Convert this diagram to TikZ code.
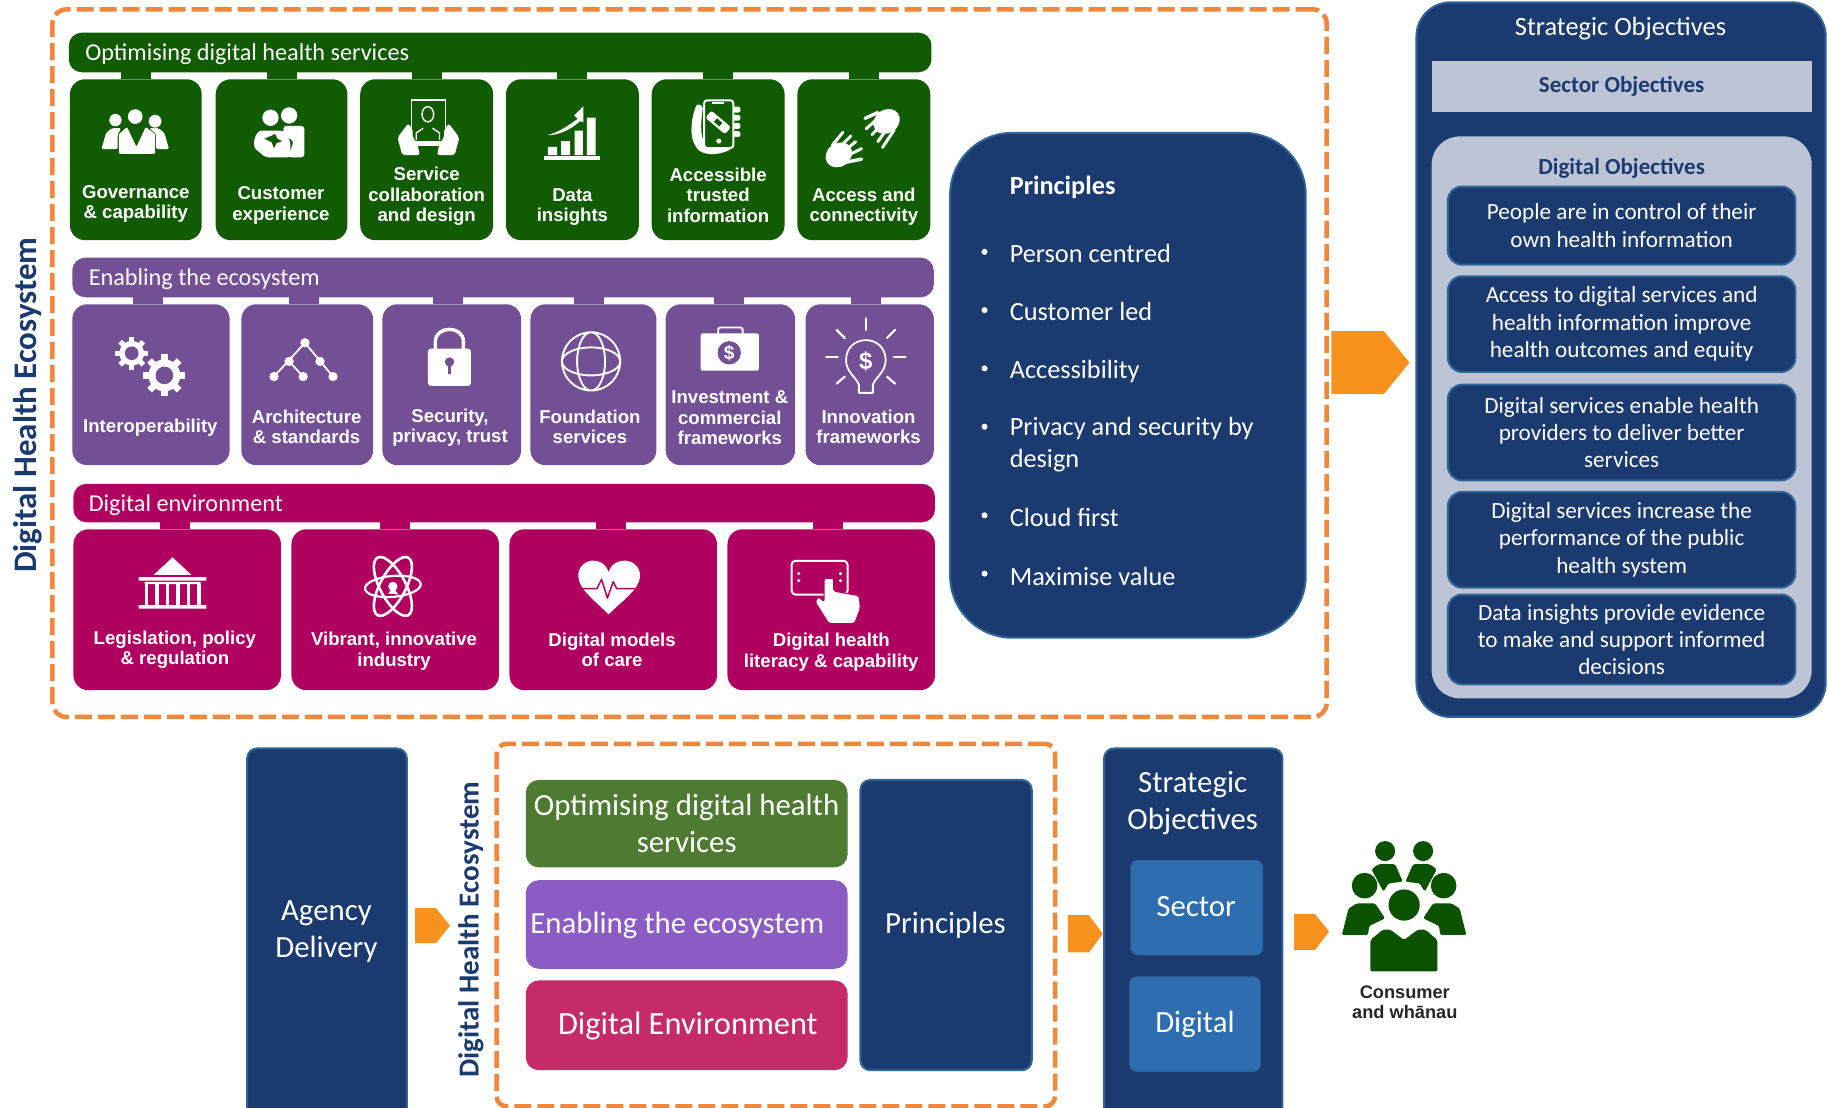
\documentclass[tikz,border=0pt]{standalone}
\usepackage{fontspec}
\setmainfont{Carlito}
\newfontfamily\arialf{Liberation Sans}
\definecolor{dgreen}{HTML}{115C02}
\definecolor{dpurple}{HTML}{734F96}
\definecolor{dmag}{HTML}{B00060}
\definecolor{navy}{HTML}{1B3A70}
\definecolor{navyb}{HTML}{2F6496}
\definecolor{dorange}{HTML}{F0873A}
\definecolor{aorange}{HTML}{F7921E}
\definecolor{lgray}{HTML}{BCC4D6}
\definecolor{bgreen}{HTML}{4E7A32}
\definecolor{bpurple}{HTML}{8B5CC4}
\definecolor{bcrim}{HTML}{C42B68}
\definecolor{mblue}{HTML}{2E6DB0}
\definecolor{cgreen}{HTML}{0B5200}
\def\uu{1.1658}
\tikzset{
 boxb/.style={rectangle,outer sep=0pt,inner sep=0pt,text=white,align=center},
 tile/.style={boxb,rounded corners=15pt},
 bar/.style={boxb,rounded corners=13pt},
 tlabel/.style={text=white,align=center,inner sep=0pt,font=\arialf\bfseries\fontsize{18.6}{20.5}\selectfont},
 blabel/.style={text=white,anchor=base west,inner sep=0pt,font=\fontsize{24.2}{28}\selectfont},
 rtext/.style={text=white,align=center,font=\fontsize{23.2}{27.3}\selectfont},
 plist/.style={text=white,anchor=base west,align=left,inner sep=0pt,font=\fontsize{26.3}{31.5}\selectfont},
 bigt/.style={text=white,align=center,inner sep=0pt,font=\fontsize{30.8}{37}\selectfont},
 vlabel/.style={text=navy,rotate=90,inner sep=0pt,font=\bfseries\fontsize{32.9}{34}\selectfont},
 dashbox/.style={boxb,draw=dorange,line width=4.5pt,dash pattern=on 17pt off 6pt},
 objbox/.style={boxb,fill=navy,draw=navyb,line width=2pt,rounded corners=14pt},
 panel/.style={boxb,fill=navy,draw=navyb,line width=2pt},
 stub/.style={line width=30pt},
}
\newcommand{\bx}[7]{\node[#6,minimum width={(#4-(#2))*\uu*1pt},minimum height={(#5-(#3))*\uu*1pt}] (#1) at ({(#2+#4)/2},{(#3+#5)/2}) {#7};}
\newcommand{\stubline}[4]{\draw[stub,#1] ([xshift=#4*\uu*1pt]#2.north) -- ([xshift=#4*\uu*1pt]#2.north |- #3.south);}
\newcommand{\gearicon}[4]{%
 \foreach \a in {0,45,...,315}{\draw[white,line width=#3*0.36pt] ($(#1,#2)+(\a:#3*0.55)$) -- ($(#1,#2)+(\a:#3)$);}
 \fill[white] (#1,#2) circle (#3*0.76);
 \fill[#4] (#1,#2) circle (#3*0.42);}
\usetikzlibrary{calc}
\begin{document}
\begin{tikzpicture}[x=1.1658pt,y=-1.1658pt]
\useasboundingbox (0,0) rectangle (1568,950.4);
\fill[white] (0,0) rectangle (1568,950.4);

% outer dashed
\bx{outer}{45}{8}{1138}{615}{dashbox,rounded corners=14pt}{}
\node[vlabel] (vl) at (24,347.5) {Digital Health Ecosystem};

% green row
\bx{gbar}{59}{28}{799}{62}{bar,fill=dgreen}{}
\node[blabel] (gbart) at (73,51.5) {Optimising digital health services};
\bx{g1}{60}{68}{173}{206}{tile,fill=dgreen}{}
\bx{g2}{185}{68}{298}{206}{tile,fill=dgreen}{}
\bx{g3}{309}{68}{423}{206}{tile,fill=dgreen}{}
\bx{g4}{434}{68}{548}{206}{tile,fill=dgreen}{}
\bx{g5}{559}{68}{673}{206}{tile,fill=dgreen}{}
\bx{g6}{684}{68}{798}{206}{tile,fill=dgreen}{}
\foreach \n in {g1,g2,g3,g4,g5,g6}{\stubline{dgreen}{\n}{gbar}{0}}
\node[tlabel] (g1t) at (116.5,175) {Governance\\\& capability};
\node[tlabel] (g2t) at (241,176) {Customer\\experience};
\node[tlabel] (g3t) at (366,168.5) {Service\\collaboration\\and design};
\node[tlabel] (g4t) at (491,177.5) {Data\\insights};
\node[tlabel] (g5t) at (616,167.5) {Accessible\\trusted\\information};
\node[tlabel] (g6t) at (741,177.5) {Access and\\connectivity};

% icon governance
\begin{scope}[shift={(116,113)}]
 \fill[white] (-17,-10) circle (5.3) (0,-13) circle (6.3) (17,-9) circle (5.5);
 \fill[white,rounded corners=1.5pt] (-29,15)--(-25,1)--(-20,-3)--(-12,-3)--(-15,2)--(-15,15)--cycle;
 \fill[white,rounded corners=1.5pt] (29,15)--(25,1)--(20,-3)--(12,-3)--(18,2)--(18,15)--cycle;
 \fill[white,rounded corners=1pt] (-14,19)--(17,19)--(17,2)--(9,-4)--(1,13)--(-7,-4)--(-14,2)--cycle;
\end{scope}
% icon customer
\begin{scope}[shift={(240,113)}]
 \fill[white] (-8,-12) circle (7) (8,-14) circle (7);
 \fill[white,rounded corners=3pt] (3,-5)--(21,-5)--(21,22)--(7,22)--(12,8)--(3,3)--cycle;
 \fill[white,rounded corners=3pt] (-18,-1)--(3,-1)--(9,8)--(9,22)--(-12,22)--(-22,14)--(-22,6)--cycle;
 \fill[dgreen] (-13,6)--(-4,2)--(-2,6)--(2,8)--(-3,10)--(-5,14)--(-7,9)--cycle;
\end{scope}
% icon service
\begin{scope}[shift={(367,109)}]
 \draw[white,line width=1.6pt] (-14,-23) rectangle (15,13);
 \draw[white,line width=1.4pt] (0,-11) ellipse (5 and 6.5);
 \draw[white,line width=1.4pt] (-10,11)--(-10,5)--(-4,1) (10,11)--(10,5)--(4,1);
 \fill[white] (-9,12) rectangle (10,16);
 \fill[white,rounded corners=2pt] (-26,9)--(-17,-3)--(-13,2)--(-13,9)--(-9,14)--(-7,24)--(-22,24)--cycle;
 \fill[white,rounded corners=2pt] (27,9)--(18,-3)--(14,2)--(14,9)--(10,14)--(8,24)--(23,24)--cycle;
\end{scope}
% icon data
\begin{scope}[shift={(490.5,115)}]
 \fill[white] (-24,19) rectangle (24,22);
 \fill[white] (-20.6,11) rectangle (-12.6,18) (-9.1,6) rectangle (-1.4,18) (2.3,-3) rectangle (9.4,18) (12.9,-14) rectangle (20.3,18);
 \fill[white] (-21,1) .. controls (-10,-2) and (-2,-8) .. (5,-13) -- (2,-16) -- (10,-24) -- (10,-10) -- (7,-11) .. controls (-2,-3) and (-12,1) .. (-21,1) -- cycle;
\end{scope}
% icon accessible
\begin{scope}[shift={(615,108)}]
 \fill[white,rounded corners=2pt] (-17,-19) .. controls (-22,-8) and (-24,8) .. (-18,18) .. controls (-13,25) and (0,26) .. (12,20) -- (-8,17) .. controls (-16,10) and (-13,-8) .. (-12,-17) -- cycle;
 \draw[white,line width=2pt,rounded corners=3pt,fill=dgreen] (-11,-22) rectangle (14,19);
 \draw[white,line width=2pt] (-4,-19.5)--(6,-19.5);
 \fill[white] (1.5,13) circle (2.2);
 \begin{scope}[shift={(1,-3)},rotate=-40]
  \fill[white,rounded corners=2.5pt] (-11,-4) rectangle (11,4);
  \fill[dgreen] (-3,-2) rectangle (3,2);
 \end{scope}
 \foreach \yy in {-14,-7,0,7}{\fill[white,rounded corners=1.5pt] (14,\yy-2.5) rectangle (20,\yy+2.5);}
\end{scope}
% icon access
\begin{scope}[shift={(740,118.5)}]
 \fill[white,rotate=35] (-25,0) ellipse (12 and 10);
 \fill[white,rotate=35] (25,0) ellipse (12 and 10);
 \foreach \ax/\ay/\bx/\by in {-26/6/-17/-5,-21/9/-10/-2,-17/12/-6/3,-13/15/-1/9,15/-19/3/-8,19/-15/8/-3,23/-11/13/3,27/-7/17/8}{\draw[white,line width=3pt,line cap=round] (\ax,\ay)--(\bx,\by);}
 \draw[white,line width=3.4pt,line cap=round] (-16,21)--(-1,18) (2,-17)--(13,-22);
\end{scope}

% purple row
\bx{pbar}{62}{221}{801}{255}{bar,fill=dpurple}{}
\node[blabel] (pbart) at (76,244.5) {Enabling the ecosystem};
\bx{p1}{62}{261}{197}{399}{tile,fill=dpurple}{}
\bx{p2}{207}{261}{320}{399}{tile,fill=dpurple}{}
\bx{p3}{328}{261}{447}{399}{tile,fill=dpurple}{}
\bx{p4}{455}{261}{563}{399}{tile,fill=dpurple}{}
\bx{p5}{571}{261}{682}{399}{tile,fill=dpurple}{}
\bx{p6}{691}{261}{801}{399}{tile,fill=dpurple}{}
\stubline{dpurple}{p1}{pbar}{-2.5}
\stubline{dpurple}{p2}{pbar}{-2.5}
\stubline{dpurple}{p3}{pbar}{-3.5}
\stubline{dpurple}{p4}{pbar}{-4}
\stubline{dpurple}{p5}{pbar}{-1.5}
\stubline{dpurple}{p6}{pbar}{-3}
\node[tlabel] (p1t) at (129,367) {Interoperability};
\node[tlabel] (p2t) at (263,366) {Architecture\\\& standards};
\node[tlabel] (p3t) at (386,367) {Security,\\privacy, trust};
\node[tlabel] (p4t) at (506,366) {Foundation\\services};
\node[tlabel] (p5t) at (626,358.5) {Investment \&\\commercial\\frameworks};
\node[tlabel] (p6t) at (745,366) {Innovation\\frameworks};

% gears
\gearicon{113}{303}{14}{dpurple}
\gearicon{141}{322}{18}{dpurple}
% tree
\draw[white,line width=1.8pt] (235,323)--(261.6,294)--(285.6,323) (248,310)--(260,323);
\fill[white] (261.6,294) circle (4) (248,310) circle (4) (274.5,310) circle (4) (235,323) circle (4) (260,323) circle (4) (285.6,323) circle (4);
% lock
\draw[white,line width=3.4pt] (373.5,300)--(373.5,293) .. controls (373.5,279) and (397.5,279) .. (397.5,293) -- (397.5,300);
\fill[white,rounded corners=3pt] (367,299) rectangle (404,331);
\fill[dpurple] (385.6,310.5) circle (4);
\fill[dpurple] (384,311) rectangle (387.2,321);
% globe
\draw[white,line width=1.9pt] (507,310) circle (25) (507,310) ellipse (12 and 25) (507,310) ellipse (25 and 12);
% suitcase
\draw[white,line width=1.8pt,rounded corners=2pt] (616,288)--(616,281)--(637,281)--(637,288);
\fill[white,rounded corners=2pt] (601,286) rectangle (651,318);
\fill[dpurple] (625.5,302.6) circle (10);
\node[text=white,inner sep=0pt,font=\arialf\bfseries\fontsize{19}{19}\selectfont] (suitd) at (625.5,302.6) {\$};
% bulb
\begin{scope}[shift={(742.7,310)}]
 \draw[white,line width=1.8pt,line join=round] (-6,27) -- (-6,20) .. controls (-8,14) and (-17,9) .. (-17,-1) .. controls (-17,-24) and (17,-24) .. (17,-1) .. controls (17,9) and (8,14) .. (6,20) -- (6,27) -- cycle;
 \node[text=white,inner sep=0pt,font=\arialf\bfseries\fontsize{24}{24}\selectfont] (bulbd) at (0,0) {\$};
 \foreach \ax/\ay/\bx/\by in {0/-37/0/-27,-25/-27/-18/-20,25/-27/18/-20,-34/-4/-24/-4,24/-4/34/-4,-25/19/-18/13,18/13/25/19}{\draw[white,line width=2.2pt,line cap=round] (\ax,\ay)--(\bx,\by);}
\end{scope}

% magenta row
\bx{mbar}{63}{415}{802}{448}{bar,fill=dmag}{}
\node[blabel] (mbart) at (76,438.5) {Digital environment};
\bx{m1}{63}{454}{241}{592}{tile,fill=dmag}{}
\bx{m2}{250}{454}{428}{592}{tile,fill=dmag}{}
\bx{m3}{437}{454}{615}{592}{tile,fill=dmag}{}
\bx{m4}{624}{454}{802}{592}{tile,fill=dmag}{}
\stubline{dmag}{m1}{mbar}{-2}
\stubline{dmag}{m2}{mbar}{0}
\stubline{dmag}{m3}{mbar}{-2}
\stubline{dmag}{m4}{mbar}{-3}
\node[tlabel] (m1t) at (150,557.5) {Legislation, policy\\\& regulation};
\node[tlabel] (m2t) at (338,558.5) {Vibrant, innovative\\industry};
\node[tlabel] (m3t) at (525,557.5) {Digital models\\of care};
\node[tlabel] (m4t) at (713,559.5) {Digital health\\literacy \& capability};

% building
\fill[white] (148,478)--(164,493)--(132,493)--cycle;
\fill[white] (119,495) rectangle (177,498) (124,499) rectangle (172,501) (119,519) rectangle (177,522);
\foreach \cx in {124,133,142,151,160,169}{\fill[white] (\cx,501) rectangle (\cx+3,519);}
% atom
\begin{scope}[shift={(337,503)}]
 \draw[white,line width=2.6pt,rotate=62] (0,0) ellipse (28 and 11);
 \draw[white,line width=2.6pt,rotate=-62] (0,0) ellipse (28 and 11);
 \draw[white,line width=2.2pt,rotate=5] (0,0) ellipse (24 and 9);
 \fill[white] (0,0) circle (4);
 \fill[white] (-4,6) -- (0,1) -- (5,7) -- cycle;
\end{scope}
% heart
\fill[white] (522,527) .. controls (510,515) and (496,505) .. (496,494) .. controls (496,478) and (518,476) .. (522,491) .. controls (526,476) and (549,478) .. (549,494) .. controls (549,505) and (534,515) .. (522,527) -- cycle;
\draw[dmag,line width=1.5pt,line join=round] (498,505)--(512,505)--(516,497)--(521,513)--(526,499)--(529,505)--(547,505);
% tablet hand
\draw[white,line width=2pt,rounded corners=4pt] (679,481) rectangle (727,510);
\fill[white] (685,492) circle (1.5) (685,498) circle (1.5) (721,492) circle (1.5) (721,498) circle (1.5);
\filldraw[white,draw=dmag,line width=1pt,rounded corners=2pt] (707,496)--(707,516)--(702,512)--(699,516)--(711,535)--(733,535)--(738,522)--(737,511)--(715,507)--(715,496)--cycle;

% principles
\bx{prin}{815}{114}{1120}{547}{panel,rounded corners=62pt}{}
\node[plist,font=\bfseries\fontsize{26.3}{31.5}\selectfont] (pr0) at (866,167) {Principles};
\node[plist] (pr1) at (866,225) {Person centred};
\node[plist] (pr2) at (866,275) {Customer led};
\node[plist] (pr3) at (866,325) {Accessibility};
\node[plist,anchor=west] (pr4) at (866,381.5) {Privacy and security by\\design};
\node[plist] (pr5) at (866,452) {Cloud first};
\node[plist] (pr6) at (866,502) {Maximise value};
\foreach \yy in {216,266,316,366,442,492}{\fill[white] (844.5,\yy) circle (2.6);}

% arrow big
\fill[aorange] (1142,284)--(1187,284)--(1209,311)--(1187,338)--(1142,338)--cycle;

% strategic objectives
\bx{so}{1215}{2}{1566}{615}{panel,rounded corners=34pt}{}
\node[rtext,font=\fontsize{26.4}{30}\selectfont,inner sep=0pt] (sot) at (1390,24.5) {Strategic Objectives};
\bx{secobj}{1228}{52}{1554}{96}{boxb,fill=lgray,text=navy,font=\bfseries\fontsize{23}{27}\selectfont}{Sector Objectives}
\bx{digobj}{1228}{117}{1554}{599}{boxb,fill=lgray,rounded corners=28pt}{}
\node[text=navy,inner sep=0pt,font=\bfseries\fontsize{23}{27}\selectfont] (digt) at (1391,144) {Digital Objectives};
\bx{o1}{1242}{160}{1540}{227}{objbox,rtext}{People are in control of their\\own health information}
\bx{o2}{1242}{237}{1540}{319}{objbox,rtext}{Access to digital services and\\health information improve\\health outcomes and equity}
\bx{o3}{1242}{330}{1540}{412}{objbox,rtext}{Digital services enable health\\providers to deliver better\\services}
\bx{o4}{1242}{422}{1540}{504}{objbox,rtext}{Digital services increase the\\performance of the public\\health system}
\bx{o5}{1242}{510}{1540}{587}{objbox,rtext}{Data insights provide evidence\\to make and support informed\\decisions}

% lower strip
\bx{agency}{212}{642}{349}{960}{panel,rounded corners=10pt}{}
\node[bigt] (agt) at (280,799) {Agency\\Delivery};
\fill[aorange] (356,779)--(374,779)--(386,794)--(374,809)--(356,809)--cycle;
\node[vlabel,font=\bfseries\fontsize{29}{30}\selectfont] (vl2) at (404,797.5) {Digital Health Ecosystem};
\bx{outer2}{426}{638}{905}{949}{dashbox,rounded corners=10pt}{}
\bx{lg}{451}{669}{727}{744}{boxb,rounded corners=13pt,fill=bgreen}{}
\node[bigt] (lgt) at (589,706) {Optimising digital health\\services};
\bx{lp}{451}{755}{727}{831}{boxb,rounded corners=13pt,fill=bpurple}{}
\node[bigt] (lpt) at (581,794) {Enabling the ecosystem};
\bx{lc}{451}{841}{727}{918}{boxb,rounded corners=13pt,fill=bcrim}{}
\node[bigt,font=\fontsize{32.4}{37}\selectfont] (lct) at (590,880) {Digital Environment};
\bx{lpr}{738}{669}{885}{918}{panel,rounded corners=10pt}{}
\node[bigt] (lprt) at (811,794) {Principles};
\fill[aorange] (916,785)--(934,785)--(946,801)--(934,817)--(916,817)--cycle;
\bx{lso}{947}{642}{1100}{960}{panel,rounded corners=10pt}{}
\node[bigt] (lsot) at (1023,689) {Strategic\\Objectives};
\bx{lsec}{970}{738}{1083}{819}{boxb,rounded corners=7pt,fill=mblue,draw=navyb,line width=1pt}{}
\node[bigt] (lsect) at (1026,778) {Sector};
\bx{ldig}{969}{838}{1081}{919}{boxb,rounded corners=7pt,fill=mblue,draw=navyb,line width=1pt}{}
\node[bigt] (ldigt) at (1025,879) {Digital};
\fill[aorange] (1110,784)--(1128,784)--(1140,799)--(1128,815)--(1110,815)--cycle;

% consumer icon
\begin{scope}[shift={(1204.4,776.3)}]
 \fill[cgreen] (0,0) circle (13.4);
 \fill[cgreen,rounded corners=2pt] (-29,57)--(28.6,57)--(28.6,30)--(18,21)--(12,21)--(0,30)--(-12,21)--(-18,21)--(-29,30)--cycle;
 \foreach \s in {1,-1}{
  \begin{scope}[xscale=\s]
   \fill[cgreen] (-16.3,-46.3) circle (8.6);
   \fill[cgreen] (-33.9,-16.6) circle (11);
   \fill[cgreen,rounded corners=1.5pt] (-53.4,25.7)--(-47.7,3)--(-40.6,-1.4)--(-24.9,-1.4)--(-16.3,11.4)--(-30,18)--(-31,25.7)--cycle;
   \fill[cgreen,rounded corners=1.5pt] (-28,-30.6)--(-22,-35)--(-7.7,-35)--(-1.1,-20)--(-13.4,-18.6)--(-17.7,-11.4)--cycle;
  \end{scope}}
\end{scope}
\node[text=black!85,align=center,inner sep=0pt,font=\arialf\bfseries\fontsize{18.2}{20}\selectfont] (cons) at (1205,859.5) {Consumer\\and whānau};
\end{tikzpicture}
\end{document}
